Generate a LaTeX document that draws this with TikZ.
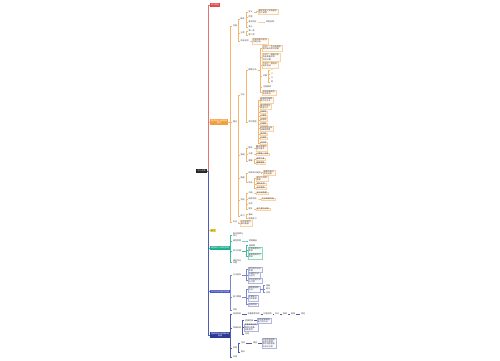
\documentclass[tikz,border=0pt]{standalone}
\usepackage{fontspec}
\newfontfamily\cjk{Noto Sans CJK SC}
\usetikzlibrary{calc}
\definecolor{redc}{HTML}{E04A4A}
\definecolor{orangec}{HTML}{F2A03D}
\definecolor{yellowc}{HTML}{F5D547}
\definecolor{greenc}{HTML}{1AAE8F}
\definecolor{bluec}{HTML}{4455C0}
\definecolor{navyc}{HTML}{2D3A9A}
\definecolor{redline}{HTML}{E57373}
\definecolor{orangeline}{HTML}{F5B66B}
\definecolor{yellowline}{HTML}{EBCB4A}
\definecolor{greenline}{HTML}{3DBE9F}
\definecolor{blueline}{HTML}{7986CB}
\definecolor{navyline}{HTML}{4F5CB0}
\tikzset{
  every node/.style={font=\cjk\fontsize{2}{2.4}\selectfont, anchor=west,
    inner xsep=0.8pt, inner ysep=0.5pt, align=left, text=black!75},
  rootbox/.style={fill=black!85, text=white, inner xsep=1.3pt, inner ysep=1pt},
  topic/.style={fill=#1, text=white, align=center, inner xsep=1pt, inner ysep=0.6pt},
  obox/.style={draw=orangeline!60, fill=orange!3, line width=0.15pt},
  gbox/.style={draw=greenline!60, fill=green!2, line width=0.15pt},
  bbox/.style={draw=blueline!60, fill=blue!2, line width=0.15pt},
  mainlink/.style={draw=#1, line width=0.45pt},
  olink/.style={draw=orangeline, line width=0.3pt},
  glink/.style={draw=greenline, line width=0.3pt},
  blink/.style={draw=blueline, line width=0.3pt},
  nlink/.style={draw=navyline, line width=0.3pt}
}
\newcommand{\lnk}[3]{\draw[#1] (#2.east) -- ($(#2.east -| #3.west)+(-1.5,0)$) |- (#3.west);}
\begin{document}
\begin{tikzpicture}[x=1pt,y=-1pt]
  \fill[white] (0,0) rectangle (500,360);
  \useasboundingbox (0,0) rectangle (500,360);
  %% root and main topics
  \node[rootbox] (root) at (196,171) {中心主题};
  \node[topic=redc] (c1) at (210,5) {学习笔记};
  \node[topic=orangec] (c2) at (210,122) {重点知识归纳整理\\要点};
  \node[topic=yellowc,text=black!70] (c3) at (210,230.5) {备注};
  \node[topic=greenc] (c4) at (210,248) {课堂练习与典型例题};
  \node[topic=bluec] (c5) at (210,291.5) {学习方法与技巧总结};
  \node[topic=navyc] (c6) at (210,335) {拓展阅读与思维训练\\延伸};
  \lnk{mainlink=orangeline}{root}{c2}
  \lnk{mainlink=redline}{root}{c1}
  \lnk{mainlink=yellowline}{root}{c3}
  \lnk{mainlink=greenline}{root}{c4}
  \lnk{mainlink=blueline}{root}{c5}
  \lnk{mainlink=navyline}{root}{c6}

  %% orange branch
  \node (p) at (232,26) {内容};
  \node (q) at (232,122) {要点};
  \node (r) at (232,222) {补充};
  \node (p1) at (239.5,19) {概念};
  \node (p2) at (239.5,33) {分类};
  \node (p3) at (239.5,41) {实际应用};
  \node (p1a) at (247.5,12) {定义};
  \node[obox] (p1a1) at (258,11.5) {概念的定义及其基本\\含义说明};
  \node (p1b) at (247.5,17) {性质};
  \node (p1c) at (247.5,22) {基本特征};
  \node (p1c1) at (265,22) {举例说明};
  \node (p1d) at (247.5,27) {意义};
  \node (p2a) at (247.5,31) {第一类};
  \node (p2b) at (247.5,35) {第二类};
  \node[obox] (p3a) at (252,41) {应用场景与实际\\问题分析};
  \node (q1) at (239.5,95) {方法};
  \node (q2) at (239.5,155) {易错};
  \node (q3) at (239.5,178) {拓展};
  \node (q4) at (239.5,200) {总结};
  \node (q5) at (239.5,216) {练习};
  \node[obox] (r1) at (240,223) {补充说明与\\课外拓展};
  \node (q1a) at (247.5,70) {解题方法};
  \node (q1b) at (247.5,122) {常见题型};
  \node[obox] (q1a1) at (262,48) {方法一：先分析题意\\再列出关系式求解};
  \node[obox] (q1a2) at (262,57) {方法二：画图分析\\找出等量关系\\列式计算};
  \node[obox] (q1a3) at (262,65) {方法三：假设法\\逐步验证};
  \node (q1a4) at (262,76) {步骤};
  \node (q1a5) at (262,87) {注意事项};
  \node[obox] (q1a6) at (262,92.5) {检查结果是否\\符合实际};
  \foreach \i/\y/\t in {1/70/一,2/74/二,3/78/三,4/82/四}{
    \node (st\i) at (270,\y) {\t};
    \lnk{olink}{q1a4}{st\i}
  }
  \foreach \i/\y/\t in {1/100/{选择题的解题\\技巧与方法},2/106.5/{填空题常见\\考查方式},
      3/112/判断题,4/116/计算题,5/120/应用题,6/124/作图题,
      7/128.5/{综合题型分析\\与解答思路},8/134/探究题,9/138/开放题,10/143/实验题}{
    \node[obox] (tx\i) at (259.5,\y) {\t};
    \lnk{olink}{q1b}{tx\i}
  }
  \node (q2a) at (247.5,148) {概念};
  \node[obox] (q2a1) at (255.5,148) {概念混淆的\\常见情况};
  \node (q2b) at (247.5,154) {计算};
  \node[obox] (q2b1) at (255.5,154) {计算粗心出错};
  \node (q2c) at (247.5,161) {理解};
  \node[obox] (q2c1) at (255.5,159) {审题不清};
  \node[obox] (q2c2) at (255.5,163) {理解偏差};
  \node (q3a) at (247.5,173) {相关知识延伸};
  \node[obox] (q3a1) at (263,172.5) {拓展内容与\\综合运用};
  \node (q3b) at (247.5,182.5) {综合};
  \node[obox] (q3b1) at (256,178.5) {知识之间的\\联系};
  \node[obox] (q3b2) at (256,184) {横向比较};
  \node[obox] (q3b3) at (256,188) {纵向联系};
  \node (q4a) at (247.5,193) {归纳};
  \node[obox] (q4a1) at (256,193) {知识结构图};
  \node (q4b) at (247.5,199) {规律总结};
  \node[obox] (q4b1) at (261,199) {方法规律归纳};
  \node (q4c) at (247.5,204) {反思};
  \node (q4d) at (247.5,209) {提升};
  \node[obox] (q4d1) at (256,209) {能力提升训练};
  \node (q5a) at (247.5,214.5) {基础};
  \node (q5b) at (247.5,218.5) {提高练习};
  \foreach \a/\b in {c2/p,c2/q,c2/r,p/p1,p/p2,p/p3,p1/p1a,p1/p1b,p1/p1c,p1/p1d,
      p1a/p1a1,p1c/p1c1,p2/p2a,p2/p2b,p3/p3a,r/r1,
      q/q1,q/q2,q/q3,q/q4,q/q5,q1/q1a,q1/q1b,
      q1a/q1a1,q1a/q1a2,q1a/q1a3,q1a/q1a4,q1a/q1a5,q1a/q1a6,
      q2/q2a,q2/q2b,q2/q2c,q2a/q2a1,q2b/q2b1,q2c/q2c1,q2c/q2c2,
      q3/q3a,q3/q3b,q3a/q3a1,q3b/q3b1,q3b/q3b2,q3b/q3b3,
      q4/q4a,q4/q4b,q4/q4c,q4/q4d,q4a/q4a1,q4b/q4b1,q4d/q4d1,q5/q5a,q5/q5b}{
    \lnk{olink}{\a}{\b}
  }

  %% green branch
  \node (g1) at (232,235) {知识回顾与\\复习};
  \node (g2) at (232,241) {典型例题};
  \node (g2a) at (248,241) {例题解析};
  \node (g3) at (232,251) {练习巩固};
  \node (g3a) at (248,245.5) {基础题};
  \node[gbox] (g3b) at (248,250) {中等难度练习\\题目};
  \node[gbox] (g3c) at (248,256) {拓展提高练习\\题目};
  \node (g4) at (232,262) {课后作业\\布置};
  \foreach \a/\b in {c4/g1,c4/g2,c4/g3,c4/g4,g2/g2a,g3/g3a,g3/g3b,g3/g3c}{
    \lnk{glink}{\a}{\b}
  }

  %% blue branch
  \node (b1) at (232,275) {方法指导};
  \node[bbox] (b1a) at (248,269.5) {预习的方法与\\步骤};
  \node[bbox] (b1b) at (248,275) {听课的方法\\与技巧};
  \node[bbox] (b1c) at (248,280.5) {作业完成方法\\与习惯};
  \node (b2) at (232,297) {复习策略};
  \node[bbox] (b2a) at (248,289) {错题整理的\\方法};
  \node (b2a1) at (265,285.5) {错因};
  \node (b2a2) at (265,289) {改正};
  \node (b2a3) at (265,292.5) {归类};
  \node[bbox] (b2b) at (248,298) {定期复习\\计划安排};
  \node[bbox] (b2c) at (248,304.5) {自我检测};
  \node (b3) at (232,310) {其他};
  \foreach \a/\b in {c5/b1,c5/b2,c5/b3,b1/b1a,b1/b1b,b1/b1c,
      b2/b2a,b2/b2b,b2/b2c,b2a/b2a1,b2a/b2a2,b2a/b2a3}{
    \lnk{blink}{\a}{\b}
  }

  %% navy branch
  \node (d1) at (232,314) {阅读材料};
  \node (d1b) at (246.5,314) {名著推荐阅读};
  \node (d1c) at (262.5,314) {科普读物};
  \node (d1d) at (274,314) {杂志};
  \node (d1e) at (282,314) {报纸};
  \node (d1f) at (290,314) {网络};
  \node (d1g) at (300,314) {其他};
  \node (d2) at (232,328) {思维训练};
  \node (d2a) at (244,320.5) {逻辑思维};
  \node[bbox] (d2a1) at (257,320.5) {培养逻辑推理\\能力的方法};
  \node[bbox] (d2b) at (244,327.5) {发散思维训练\\联想与想象\\创新思考};
  \node (d2c) at (244,334) {总结};
  \node (d3) at (232,348) {实践};
  \node (d3a) at (240,343) {活动};
  \node (d3a1) at (252,343) {调查};
  \node[bbox] (d3a2) at (262,343) {社会实践调查\\记录与整理\\撰写调查报告\\交流与分享};
  \node (d3b) at (240,352) {展示};
  \node (d4) at (232,357) {反馈};
  \foreach \a/\b in {c6/d1,c6/d2,c6/d3,c6/d4,d1/d1b,d1b/d1c,d1c/d1d,d1d/d1e,d1e/d1f,d1f/d1g,
      d2/d2a,d2/d2b,d2/d2c,d2a/d2a1,d3/d3a,d3/d3b,d3a/d3a1,d3a1/d3a2}{
    \lnk{nlink}{\a}{\b}
  }
\end{tikzpicture}
\end{document}
